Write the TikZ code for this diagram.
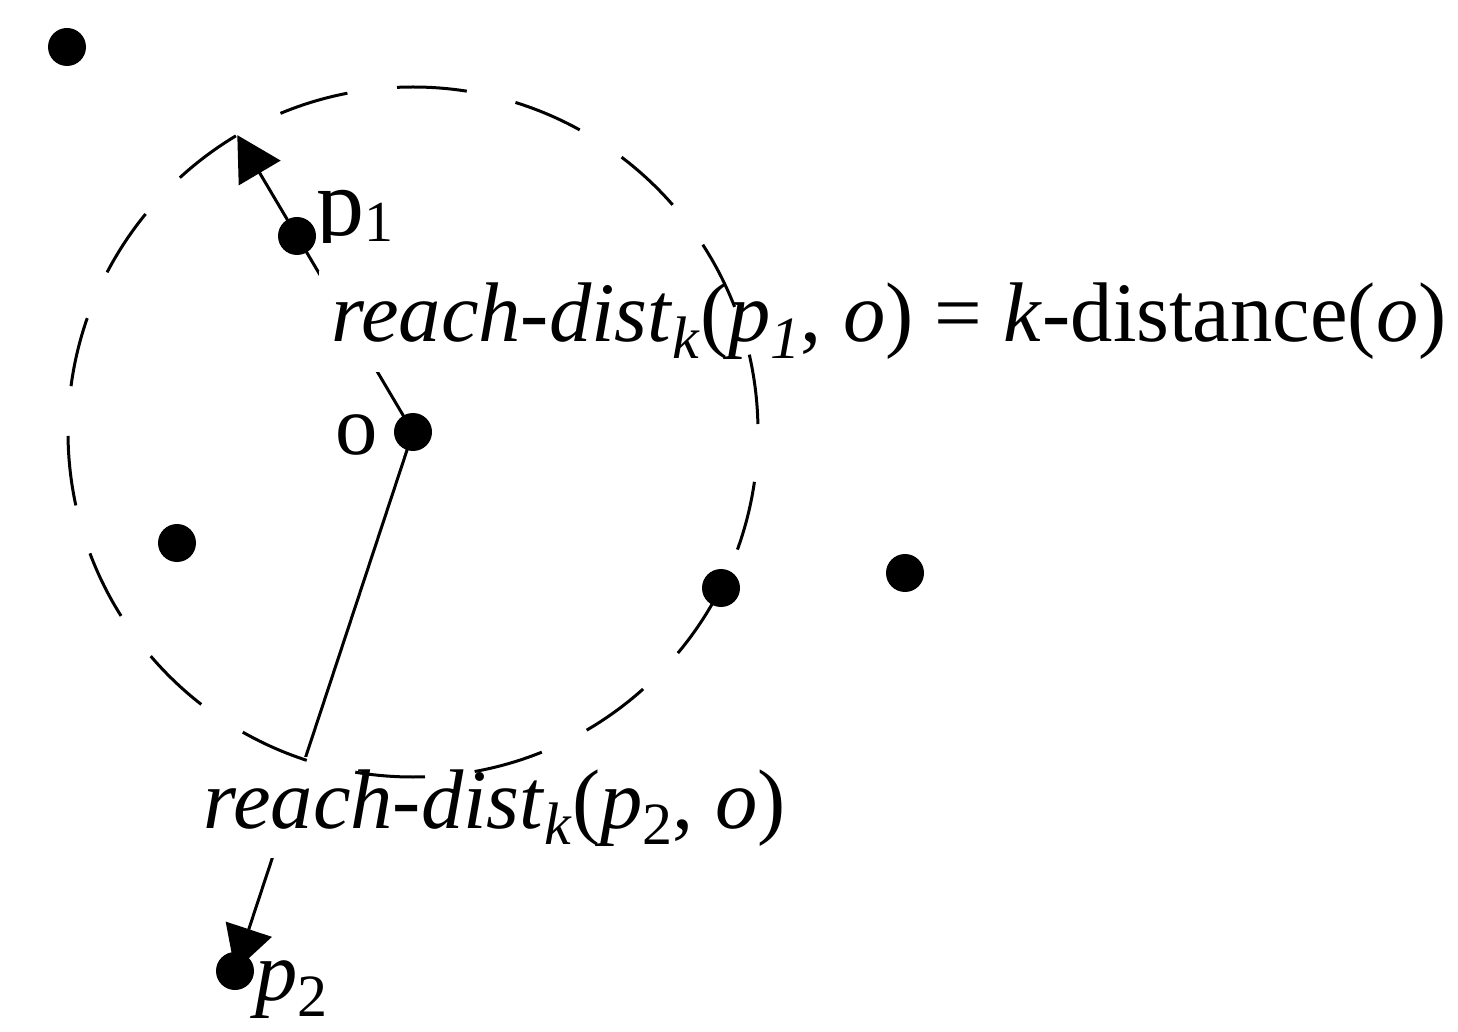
\documentclass[tikz,border=0pt]{standalone}
\usepackage{fontspec}
\setmainfont{Liberation Serif}
\usetikzlibrary{arrows.meta,calc}
\newcommand\lsub[1]{\raisebox{-0.2em}{\fontsize{30}{30}\selectfont #1}}
\begin{document}
\begin{tikzpicture}[x=0.5pt,y=-0.5pt,
  dot/.style={circle,fill=black,inner sep=0pt,minimum size=19pt},
  lbl/.style={inner sep=0pt,anchor=base west,font=\fontsize{42.3}{50}\selectfont},
  cover/.style={lbl,fill=white,inner sep=6pt},
  conn/.style={line width=1.5pt,-{Triangle[length=22pt,width=24pt]}},
  ring/.style={line width=1.5pt,dash pattern=on 35pt off 25pt,dash phase=35pt}]
\useasboundingbox (0,0) rectangle (1458,1032);
% points
\node[dot] (a)  at (67,47) {};
\node[dot] (p1) at (297,236) {};
\node[dot] (o)  at (413,432) {};
\node[dot] (d4) at (177,543) {};
\node[dot] (d5) at (721,588) {};
\node[dot] (d6) at (905,573) {};
\node[dot] (p2) at (235,971) {};
% connectors
\coordinate (q1) at ($(o.center)!172.5pt!(p1.center)$);
\draw[conn] (o.center) -- (q1);
\draw[conn] (o.center) -- (p2.center);
% labels
\node[cover] (t1) at (319,342) {\textit{reach-dist}\lsub{\textit{k}}(\textit{p}\lsub{\textit{1}}, \textit{o}) = \textit{k}-distance(\textit{o})};
\node[cover] (t2) at (191,828) {\textit{reach-dist}\lsub{\textit{k}}(\textit{p}\lsub{2}, \textit{o})};
\node[lbl] (lo) at (335,455) {o};
\begin{scope}
\clip (300,150) rectangle (420,243);
\node[lbl,font=\fontsize{48}{56}\selectfont] (l1) at (316,236) {p\raisebox{-3pt}{\fontsize{29}{30}\selectfont 1}};
\end{scope}
\node[lbl] (l2) at (255,1000) {\textit{p}\lsub{2}};
% neighbourhood circle
\draw[ring] (o.center) circle[radius=345];
\end{tikzpicture}
\end{document}
